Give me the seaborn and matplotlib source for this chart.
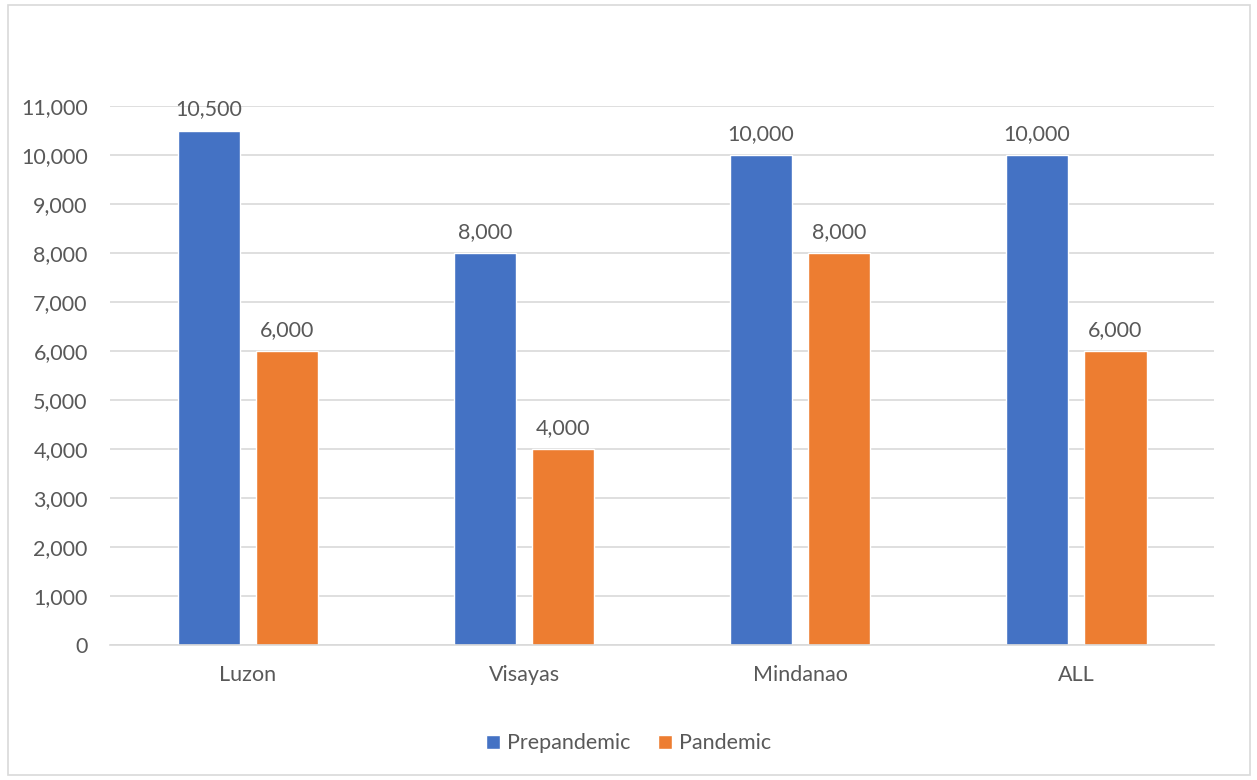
import matplotlib
matplotlib.use("Agg")
import matplotlib.pyplot as plt
import seaborn as sns
import pandas as pd
from matplotlib.patches import Rectangle, Patch

regions = ["Luzon", "Visayas", "Mindanao", "ALL"]
prepandemic = [10500, 8000, 10000, 10000]
pandemic = [6000, 4000, 8000, 6000]
series = ["Prepandemic", "Pandemic"]
colors = ["#4472C4", "#ED7D31"]

df = pd.DataFrame({
    "region": regions * 2,
    "value": prepandemic + pandemic,
    "series": [series[0]] * 4 + [series[1]] * 4,
})

sns.set_theme(style="white")
plt.rcParams['font.family'] = ['Lato', 'DejaVu Sans']
txt = "#595959"
fs = 15.5

fig = plt.figure(figsize=(12.57, 7.8), dpi=100)
ax = fig.add_axes([0.0875, 0.173, 0.8785, 0.691])

sns.barplot(data=df, x="region", y="value", hue="series", palette=colors,
            width=0.569, gap=0.21, ax=ax, legend=False, saturation=1)

ax.set_xlim(-0.5, 3.5)
ax.set_ylim(0, 11000)
ax.set_yticks(range(0, 11001, 1000))
ax.set_yticklabels([f"{v:,}" for v in range(0, 11001, 1000)])
ax.yaxis.grid(True, color="#D9D9D9", linewidth=1.2)
ax.set_axisbelow(True)
for s in ["top", "right", "left"]:
    ax.spines[s].set_visible(False)
ax.spines["bottom"].set_color("#D9D9D9")
ax.spines["bottom"].set_linewidth(1.2)
ax.tick_params(axis="both", length=0, labelsize=fs, colors=txt)
ax.tick_params(axis="x", pad=14)
ax.tick_params(axis="y", pad=16)
ax.set_xlabel("")
ax.set_ylabel("")

for cont in ax.containers:
    ax.bar_label(cont, labels=[f"{v:,.0f}" for v in cont.datavalues],
                 padding=8, fontsize=fs, color=txt)

handles = [Patch(facecolor=c, label=l) for c, l in zip(colors, series)]
fig.legend(handles=handles, loc="center", bbox_to_anchor=(0.5, 0.047), ncol=2,
           frameon=False, fontsize=fs, labelcolor=txt, handlelength=0.65,
           handleheight=0.65, handletextpad=0.3, columnspacing=1.3)

fig.patches.append(Rectangle((8 / 1257, 5 / 780), 1242 / 1257, 770 / 780,
                             transform=fig.transFigure, fill=False,
                             edgecolor="#D9D9D9", linewidth=1.2))

fig.savefig("out.png", dpi=100)
